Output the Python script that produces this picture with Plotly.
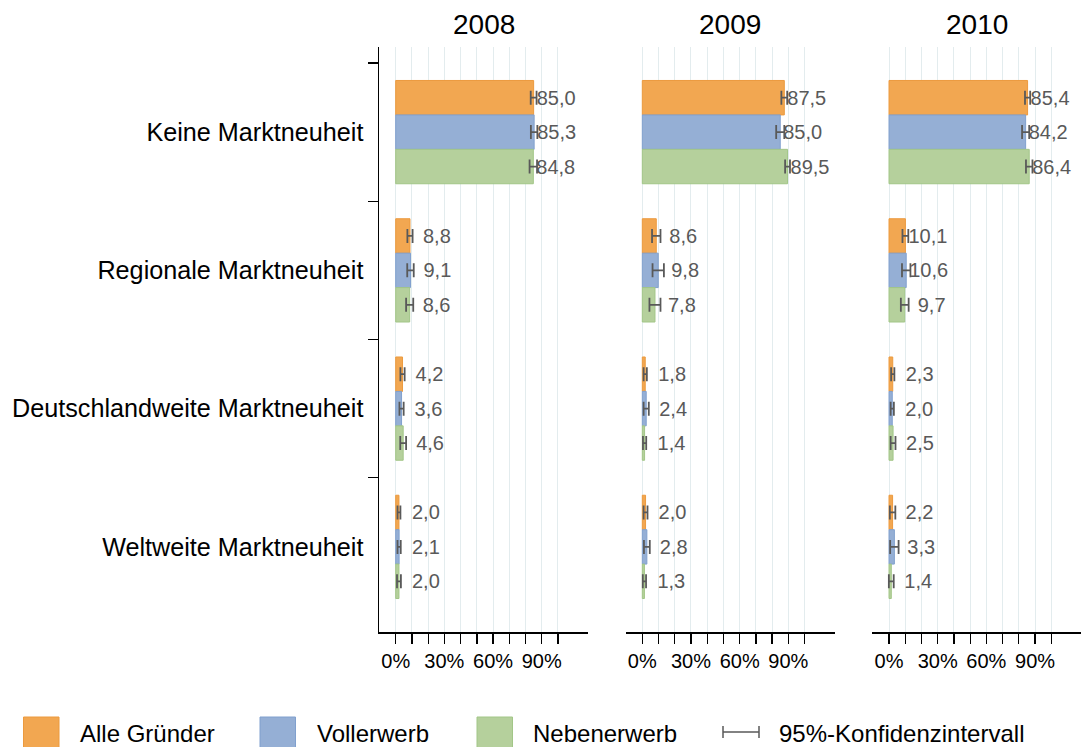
import plotly.graph_objects as go

# ---------------- data ----------------
categories = ["Keine Marktneuheit", "Regionale Marktneuheit",
              "Deutschlandweite Marktneuheit", "Weltweite Marktneuheit"]
years = ["2008", "2009", "2010"]
series_names = ["Alle Gründer", "Vollerwerb", "Nebenerwerb"]

# values per year: [Alle Gründer, Vollerwerb, Nebenerwerb], each over categories
alle_2008 = [85.0, 8.8, 4.2, 2.0]
voll_2008 = [85.3, 9.1, 3.6, 2.1]
neben_2008 = [84.8, 8.6, 4.6, 2.0]
alle_2009 = [87.5, 8.6, 1.8, 2.0]
voll_2009 = [85.0, 9.8, 2.4, 2.8]
neben_2009 = [89.5, 7.8, 1.4, 1.3]
alle_2010 = [85.4, 10.1, 2.3, 2.2]
voll_2010 = [84.2, 10.6, 2.0, 3.3]
neben_2010 = [86.4, 9.7, 2.5, 1.4]

# 95% confidence interval half-widths (estimated)
err_alle_2008 = [1.8, 1.6, 1.3, 0.9]
err_voll_2008 = [2.0, 2.0, 1.3, 1.0]
err_neben_2008 = [2.3, 2.2, 1.8, 1.2]
err_alle_2009 = [1.8, 2.6, 1.0, 1.2]
err_voll_2009 = [2.5, 3.5, 1.6, 1.8]
err_neben_2009 = [1.5, 3.4, 1.0, 1.0]
err_alle_2010 = [1.6, 1.8, 1.0, 1.7]
err_voll_2010 = [2.2, 2.6, 1.0, 2.6]
err_neben_2010 = [2.0, 2.4, 1.5, 1.5]

x_tickvals = [0, 10, 20, 30, 40, 50, 60, 70, 80, 90, 100]
x_ticktext = ["0%", "", "", "30%", "", "", "60%", "", "", "90%", ""]

values = {
    "2008": [alle_2008, voll_2008, neben_2008],
    "2009": [alle_2009, voll_2009, neben_2009],
    "2010": [alle_2010, voll_2010, neben_2010],
}
errors = {
    "2008": [err_alle_2008, err_voll_2008, err_neben_2008],
    "2009": [err_alle_2009, err_voll_2009, err_neben_2009],
    "2010": [err_alle_2010, err_voll_2010, err_neben_2010],
}

# ---------------- style ----------------
W, H = 1083, 747
FONT = "Liberation Sans, Arial, sans-serif"
fills = ["#F2A751", "#95AFD5", "#B5D09C"]
lines = ["#EC9A3E", "#80A0CE", "#A2C687"]
label_color = "#595959"
grid_color = "#E3ECEE"

px_domains = [(379, 588), (625.6, 834.6), (872.3, 1081.3)]
x_domains = [(a / W, b / W) for a, b in px_domains]
y_domain = (1 - 632 / H, 1 - 47 / H)
x_range = [-10.3, 118.5]
y_range = [3.6157, -0.6157]


def fmt(v):
    s = f"{v:.1f}".replace(".", ",")
    return ("\u2002" + s) if v < 10 else s


fig = go.Figure()
for i, yr in enumerate(years):
    xa = "x" if i == 0 else f"x{i+1}"
    ya = "y" if i == 0 else f"y{i+1}"
    for s, name in enumerate(series_names):
        vals = values[yr][s]
        fig.add_trace(go.Bar(
            x=vals, y=categories, orientation="h", name=name,
            xaxis=xa, yaxis=ya, showlegend=False,
            marker=dict(color=fills[s], line=dict(color=lines[s], width=1)),
            error_x=dict(type="data", array=errors[yr][s], visible=True,
                         color=label_color, thickness=1.8, width=7),
            text=[fmt(v) for v in vals], textposition="outside",
            textfont=dict(family=FONT, size=20, color=label_color),
            constraintext="none", cliponaxis=False,
            hoverinfo="skip",
        ))

layout = dict(
    width=W, height=H, margin=dict(l=0, r=0, t=0, b=0),
    paper_bgcolor="white", plot_bgcolor="white",
    barmode="group", bargap=0.253, bargroupgap=0,
    font=dict(family=FONT, color="#000000"),
)
for i in range(3):
    xk = "xaxis" if i == 0 else f"xaxis{i+1}"
    yk = "yaxis" if i == 0 else f"yaxis{i+1}"
    ya = "y" if i == 0 else f"y{i+1}"
    xa = "x" if i == 0 else f"x{i+1}"
    layout[xk] = dict(
        domain=list(x_domains[i]), anchor=ya, range=x_range,
        tickmode="array", tickvals=x_tickvals, ticktext=x_ticktext,
        ticks="outside", ticklen=10, tickwidth=1.3, tickcolor="#000000",
        showline=True, linecolor="#000000", linewidth=1.5,
        showgrid=True, gridcolor=grid_color, gridwidth=1, zeroline=False,
        tickfont=dict(family=FONT, size=20, color="#000000"),
        fixedrange=True,
    )
    ydict = dict(
        domain=list(y_domain), anchor=xa, type="category",
        categoryorder="array", categoryarray=categories, range=y_range,
        showgrid=False, zeroline=False, fixedrange=True,
    )
    if i == 0:
        ydict.update(showline=True, linecolor="#000000", linewidth=1.5,
                     ticks="outside", ticklen=10, tickwidth=1.3,
                     tickcolor="#000000", tickson="boundaries",
                     ticklabelstandoff=9,
                     tickfont=dict(family=FONT, size=25.2, color="#000000"),
                     showticklabels=True)
    else:
        ydict.update(showline=False, ticks="", showticklabels=False)
    layout[yk] = ydict

annotations = []
shapes = []
# panel titles
for i, yr in enumerate(years):
    a, b = px_domains[i]
    annotations.append(dict(
        text=yr, x=(a + b) / 2 / W, y=1 - 25 / H, xref="paper", yref="paper",
        xanchor="center", yanchor="middle", showarrow=False,
        font=dict(family=FONT, size=28, color="#000000"),
    ))

# manual legend
leg_sq_x = [23.5, 260, 477]
leg_txt_x = [78, 315, 531]
leg_cy = 733
for s, name in enumerate(series_names):
    x0 = leg_sq_x[s]
    shapes.append(dict(
        type="rect", xref="paper", yref="paper",
        x0=x0 / W, x1=(x0 + 35.5) / W, y0=1 - 717 / H, y1=1 - 753 / H,
        fillcolor=fills[s], line=dict(color=lines[s], width=1),
    ))
    annotations.append(dict(
        text=name, x=leg_txt_x[s] / W, y=1 - leg_cy / H,
        xref="paper", yref="paper", xanchor="left", yanchor="middle",
        showarrow=False, font=dict(family=FONT, size=24, color="#000000"),
    ))
# error-bar legend symbol
ex0, ex1, ey = 723, 759, 732
shapes.append(dict(type="line", xref="paper", yref="paper",
                   x0=ex0 / W, x1=ex1 / W, y0=1 - ey / H, y1=1 - ey / H,
                   line=dict(color=label_color, width=1.5)))
for ex in (ex0, ex1):
    shapes.append(dict(type="line", xref="paper", yref="paper",
                       x0=ex / W, x1=ex / W, y0=1 - (ey - 6) / H,
                       y1=1 - (ey + 6) / H,
                       line=dict(color=label_color, width=1.5)))
annotations.append(dict(
    text="95%-Konfidenzintervall", x=777 / W, y=1 - leg_cy / H,
    xref="paper", yref="paper", xanchor="left", yanchor="middle",
    showarrow=False, font=dict(family=FONT, size=24, color="#000000"),
))

layout["annotations"] = annotations
layout["shapes"] = shapes
fig.update_layout(**layout)

fig.write_html(
    "out.html",
    config={"displayModeBar": False, "staticPlot": True},
    post_script="document.body.style.margin='0';"
                "document.body.style.overflow='hidden';",
)
